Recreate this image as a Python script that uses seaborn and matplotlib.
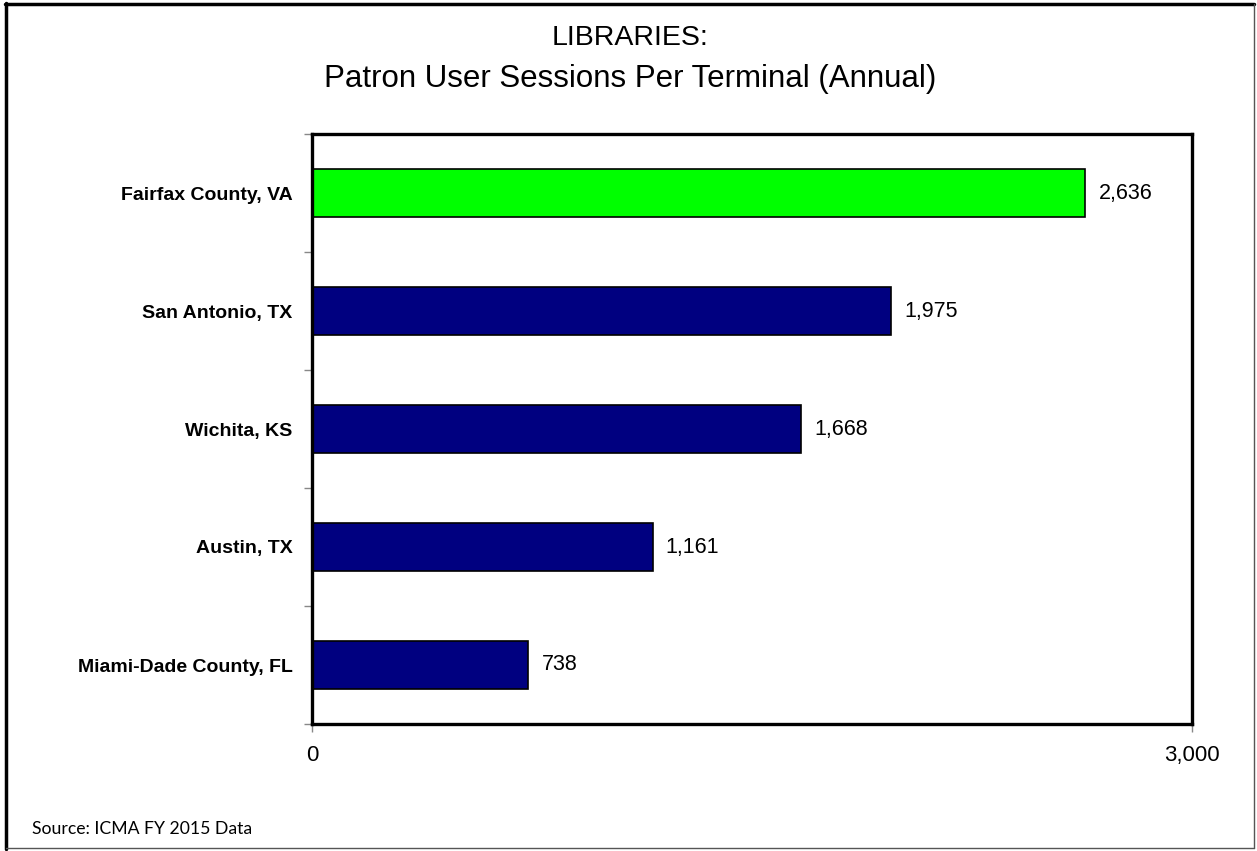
import numpy as np
import pandas as pd
import seaborn as sns
from matplotlib import pyplot as plt
from matplotlib.lines import Line2D

# data
cities = ["Fairfax County, VA", "San Antonio, TX", "Wichita, KS", "Austin, TX", "Miami-Dade County, FL"]
sessions = [2636, 1975, 1668, 1161, 738]
highlight = ["Fairfax County, VA"]

df = pd.DataFrame({"city": cities, "sessions": sessions})
df["group"] = np.where(df["city"].isin(highlight), "hl", "other")

sns.set_style("white")
plt.rcParams["font.family"] = ["Liberation Sans", "DejaVu Sans"]
plt.rcParams["text.color"] = "black"
plt.rcParams["xtick.color"] = "black"
plt.rcParams["ytick.color"] = "black"

fig = plt.figure(figsize=(12.57, 8.51), dpi=100)
ax = fig.add_axes([312 / 1257, 1 - 724 / 851, 880 / 1257, 590 / 851])

sns.barplot(data=df, x="sessions", y="city", hue="group", orient="h",
            palette={"hl": "#00FF00", "other": "#000080"}, width=0.4, saturation=1,
            edgecolor="black", linewidth=1.2, dodge=False, legend=False, ax=ax)

ax.set_xlim(0, 3000)
ax.set_ylim(4.5, -0.5)
ax.set_xticks([0, 3000])
ax.set_xticklabels(["0", "3,000"], fontsize=16)
ax.set_yticks(range(len(cities)))
ax.set_yticklabels(cities, fontsize=14, fontweight="bold")
ax.set_yticks(np.arange(-0.5, len(cities), 1), minor=True)
ax.tick_params(axis="y", which="major", length=0, pad=14)
ax.tick_params(axis="y", which="minor", length=6, color="#888888", width=1)
ax.tick_params(axis="x", which="major", length=6, color="#888888", width=1, pad=9, direction="out")
ax.xaxis.set_ticks_position("bottom")
ax.yaxis.set_ticks_position("left")
ax.set_xlabel("")
ax.set_ylabel("")
for s in ax.spines.values():
    s.set_visible(True)
    s.set_linewidth(2.4)
    s.set_color("black")

for i, v in enumerate(sessions):
    ax.text(v + 45, i, f"{v:,}", va="center", ha="left", fontsize=15.5)

fig.text(0.501, 1 - 38 / 851, "LIBRARIES:", ha="center", va="center", fontsize=20.5)
fig.text(0.501, 1 - 79 / 851, "Patron User Sessions Per Terminal (Annual)", ha="center", va="center",
         fontsize=22.5)
fig.text(32 / 1257, 1 - 829 / 851, "Source: ICMA FY 2015 Data", ha="left", va="center",
         fontsize=12.7, family=["Lato", "DejaVu Sans"])

# frame around the chart
fig.add_artist(Line2D([6 / 1257, 6 / 1257], [1 - 3 / 851, 1 - 849 / 851], color="black", lw=2.5, transform=fig.transFigure))
fig.add_artist(Line2D([5 / 1257, 1254 / 1257], [1 - 4 / 851, 1 - 4 / 851], color="black", lw=2.5, transform=fig.transFigure))
fig.add_artist(Line2D([1254 / 1257, 1254 / 1257], [1 - 4 / 851, 1 - 848 / 851], color="#555555", lw=1, transform=fig.transFigure))
fig.add_artist(Line2D([6 / 1257, 1254 / 1257], [1 - 848 / 851, 1 - 848 / 851], color="#555555", lw=1, transform=fig.transFigure))

plt.savefig("out.png", dpi=100)
